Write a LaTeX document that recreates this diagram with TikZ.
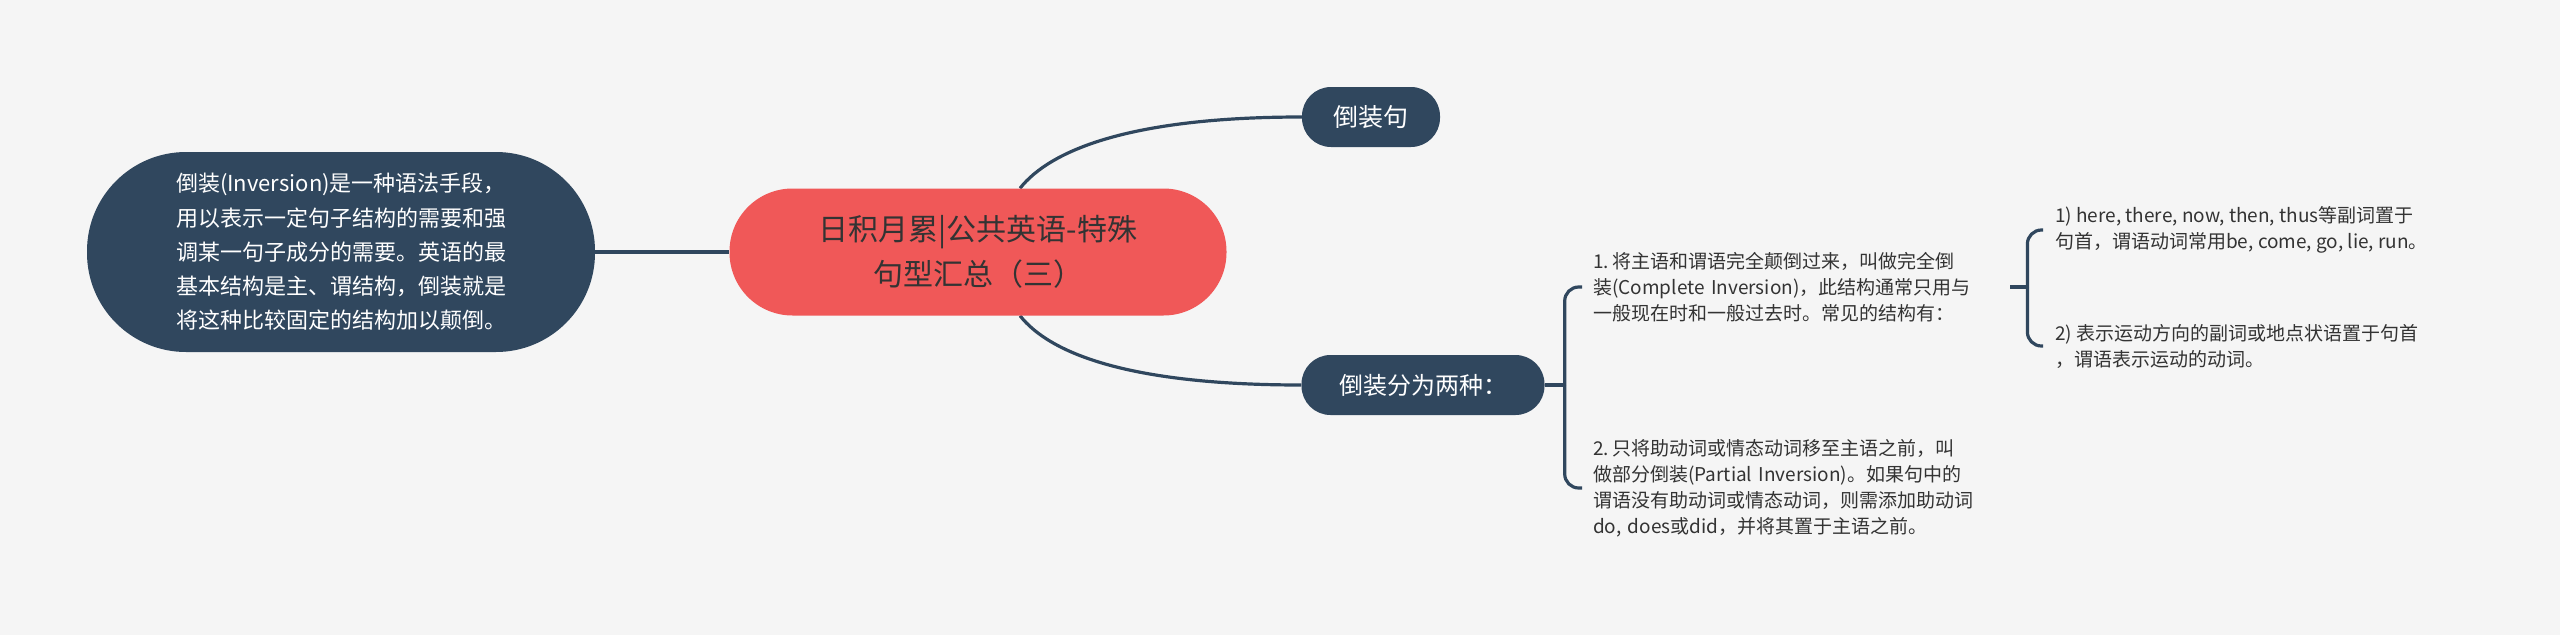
\documentclass[tikz,border=0pt]{standalone}
\usepackage{fontspec}
\setmainfont{Noto Sans CJK SC}
\usetikzlibrary{calc,backgrounds}
\definecolor{Paper}{HTML}{F5F5F5}
\definecolor{Navy}{HTML}{30475E}
\definecolor{Coral}{HTML}{F05858}
\definecolor{Ink}{HTML}{333333}

\tikzset{
  topic/.style={fill=Navy, text=white, inner sep=0pt, align=center},
  leaf/.style={inner sep=0pt, align=left, text=Ink, anchor=west, font=\fontsize{19}{26}\selectfont},
  link/.style={draw=Navy, line width=3.2pt},
}

\begin{document}
\begin{tikzpicture}[x=1pt,y=-1pt]
  \useasboundingbox (0,0) rectangle (2560,635);
  \node[fill=Coral, text=Ink, inner sep=0pt, align=center, rounded corners=63pt,
        minimum width=497pt, minimum height=127pt, font=\fontsize{30}{45}\selectfont]
        (root) at (978,252) {日积月累|公共英语-特殊\\句型汇总（三）};
  \node[topic, align=left, rounded corners=99pt, minimum width=508pt, minimum height=200pt,
        font=\fontsize{22}{34.3}\selectfont] (about) at (341,252)
        {倒装(Inversion)是一种语法手段，\\用以表示一定句子结构的需要和强\\调某一句子成分的需要。英语的最\\基本结构是主、谓结构，倒装就是\\将这种比较固定的结构加以颠倒。};
  \node[topic, rounded corners=29pt, minimum width=138pt, minimum height=60pt,
        font=\fontsize{25}{30}\selectfont] (name) at (1371,117) {倒装句};
  \node[topic, rounded corners=29pt, minimum width=243pt, minimum height=60pt,
        font=\fontsize{24}{30}\selectfont] (kinds) at (1423,385) {倒装分为两种：};
  \node[leaf, text width=417pt] (way1) at (1593,287)
        {1.\,将主语和谓语完全颠倒过来，叫做完全倒\\装(Complete Inversion)，此结构通常只用与\\一般现在时和一般过去时。常见的结构有：};
  \node[leaf, text width=417pt] (way2) at (1593,488)
        {2.\,只将助动词或情态动词移至主语之前，叫\\做部分倒装(Partial Inversion)。如果句中的\\谓语没有助动词或情态动词，则需添加助动词\\do, does或did，并将其置于主语之前。};
  \node[leaf] (sub1) at (2055,230)
        {1) here, there, now, then, thus等副词置于\\句首，谓语动词常用be, come, go, lie, run。};
  \node[leaf] (sub2) at (2055,346)
        {2) 表示运动方向的副词或地点状语置于句首\\，谓语表示运动的动词。};

  \begin{scope}[on background layer]
    \fill[Paper] (0,0) rectangle (2560,635);
    \draw[link] (about.east) -- (root.west);
    \draw[link] ($(root.north)+(42,0)$) .. controls +(30,-38) and +(-172,0) .. (name.west);
    \draw[link] ($(root.south)+(42,0)$) .. controls +(30,38) and +(-172,0) .. (kinds.west);
    \draw[link] (kinds.east) -- ++(20,0) coordinate (kb);
    \foreach \k in {way1,way2}
      \draw[link, rounded corners=14pt] (kb) |- ([xshift=-11pt]\k.west);
    \draw[link] (way1.east) -- ++(17,0) coordinate (wb);
    \foreach \k in {sub1,sub2}
      \draw[link, rounded corners=14pt] (wb) |- ([xshift=-12pt]\k.west);
  \end{scope}
\end{tikzpicture}
\end{document}
